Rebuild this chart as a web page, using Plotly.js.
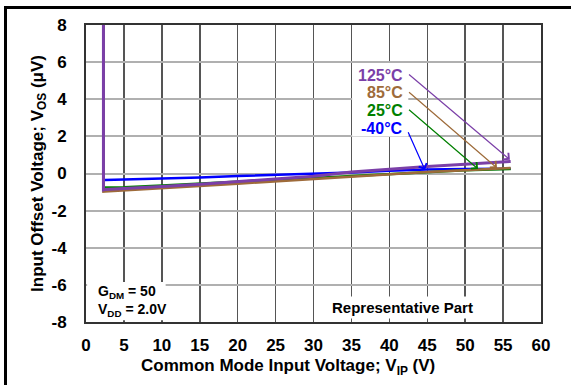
<!DOCTYPE html>
<html>
<head>
<meta charset="utf-8">
<script src="https://cdn.plot.ly/plotly-3.0.1.min.js"></script>
<style>
html,body{margin:0;padding:0;background:#fff;}
#frame{position:absolute;left:4px;top:6px;width:600px;height:400px;border-left:3px solid #000;border-top:3px solid #000;pointer-events:none;z-index:5;}
#chart{position:absolute;left:0;top:0;width:571px;height:385px;}
</style>
</head>
<body>
<div id="chart"></div>
<div id="frame"></div>
<script>
// Common mode input voltage (V) sample points
const xPurple = [2.3, 2.3, 2.5, 5, 10, 15, 20, 25, 30, 35, 40, 45, 50, 56];
const yPurple = [8, -0.88, -0.86, -0.82, -0.7, -0.58, -0.45, -0.3, -0.15, 0.08, 0.25, 0.38, 0.5, 0.65];
const x85 = [2.3, 2.3, 2.5, 5, 10, 15, 20, 25, 30, 35, 40, 45, 50, 56];
const y85 = [8, -0.98, -0.97, -0.92, -0.8, -0.68, -0.55, -0.42, -0.28, -0.15, -0.02, 0.08, 0.18, 0.3];
const x25 = [2.3, 2.3, 2.5, 5, 10, 15, 20, 25, 30, 35, 40, 45, 50, 56];
const y25 = [8, -0.76, -0.76, -0.74, -0.65, -0.55, -0.45, -0.34, -0.22, -0.13, -0.03, 0.08, 0.17, 0.24];
const xm40 = [2.3, 2.3, 2.5, 5, 8, 10, 13, 15, 20, 25, 30, 35, 40, 45, 50, 56];
const ym40 = [8, -0.36, -0.35, -0.33, -0.3, -0.3, -0.25, -0.22, -0.14, -0.08, -0.02, 0.06, 0.15, 0.22, 0.24, 0.26];

const seriesNames = ['-40°C', '25°C', '85°C', '125°C'];
const seriesColors = ['#0000FF', '#008000', '#9E6B3A', '#7B3FA8'];
const xTicks = [0, 5, 10, 15, 20, 25, 30, 35, 40, 45, 50, 55, 60];
const yTicks = [-8, -6, -4, -2, 0, 2, 4, 6, 8];
// arrow targets [tipX, tipY]
const arrowTips = [[44.7, 0.19], [51.7, 0.24], [54.2, 0.30], [55.9, 0.74]];
const labelY = [2.4, 3.4, 4.35, 5.3];

const F = 'Liberation Sans, Arial, sans-serif';
const traces = [
  {x: xm40, y: ym40, color: seriesColors[0], w: 2.5},
  {x: x25, y: y25, color: seriesColors[1], w: 2.5},
  {x: x85, y: y85, color: seriesColors[2], w: 2.5},
  {x: xPurple, y: yPurple, color: seriesColors[3], w: 3}
].map((s, i) => ({
  x: s.x, y: s.y, type: 'scatter', mode: 'lines', name: seriesNames[i],
  line: {color: s.color, width: s.w}, hoverinfo: 'skip'
}));

const annotations = [];
const labelX = 42.1;
seriesNames.forEach((n, i) => {
  annotations.push({
    x: arrowTips[i][0], y: arrowTips[i][1], ax: labelX + 0.3, ay: labelY[i] + (i === 0 ? -0.1 : 0.1),
    axref: 'x', ayref: 'y', xref: 'x', yref: 'y', text: '', showarrow: true,
    arrowhead: 4, arrowsize: 1.4, arrowwidth: 1.2, arrowcolor: seriesColors[i], standoff: 0
  });
  annotations.push({
    x: labelX, y: labelY[i], xref: 'x', yref: 'y', text: '<b>' + n + '</b>', showarrow: false,
    xanchor: 'right', yanchor: 'middle', font: {family: F, size: 16, color: seriesColors[i]}
  });
});
annotations.push({
  x: 1.3, y: -6.85, xref: 'x', yref: 'y', xanchor: 'left', yanchor: 'middle', align: 'left',
  showarrow: false,
  text: '<b>G<sub>DM</sub> = 50</b><br><b>V<sub>DD</sub> = 2.0V</b>',
  font: {family: F, size: 14, color: '#000'}
});
annotations.push({
  x: 41.8, y: -7.2, xref: 'x', yref: 'y', xanchor: 'center', yanchor: 'middle',
  showarrow: false, bgcolor: '#fff', borderpad: 2,
  text: '<b>Representative Part</b>', font: {family: F, size: 15, color: '#000'}
});
// x-axis title (offset left of plot centre as in the reference)
annotations.push({
  x: 0.444, y: -0.152, xref: 'paper', yref: 'paper', xanchor: 'center', yanchor: 'middle',
  showarrow: false,
  text: '<b>Common Mode Input Voltage; V<sub>IP</sub> (V)</b>', font: {family: F, size: 17, color: '#000'}
});

const layout = {
  width: 571, height: 385,
  margin: {l: 86, r: 30, t: 25, b: 63},
  paper_bgcolor: '#fff', plot_bgcolor: '#fff',
  showlegend: false,
  font: {family: F, color: '#000'},
  xaxis: {
    range: [0, 60], tickvals: xTicks, ticktext: xTicks.map(v => '<b>' + v + '</b>'),
    showgrid: true, gridcolor: '#555', gridwidth: 1.5, zeroline: false,
    showline: true, linecolor: '#333', linewidth: 2, mirror: true,
    ticks: 'outside', ticklen: 7, tickcolor: 'rgba(0,0,0,0)',
    tickfont: {family: F, size: 17, color: '#000'}
  },
  yaxis: {
    range: [-8, 8], tickvals: yTicks, ticktext: yTicks.map(v => '<b>' + v + '</b>'),
    showgrid: true, gridcolor: '#b0b0b0', gridwidth: 2, zeroline: false,
    showline: true, linecolor: '#333', linewidth: 2, mirror: true,
    ticks: 'outside', ticklen: 14, tickcolor: 'rgba(0,0,0,0)',
    tickfont: {family: F, size: 17, color: '#000'},
    title: {text: '<b>Input Offset Voltage; V<sub>OS</sub> (μV)</b>', font: {family: F, size: 17, color: '#000'}, standoff: 4}
  },
  shapes: [
    {type: 'rect', xref: 'x', yref: 'y', x0: 35.1, x1: 42.5, y0: 2.0, y1: 5.95, fillcolor: '#fff', line: {width: 0}, layer: 'above'},
    {type: 'rect', xref: 'x', yref: 'y', x0: 0.15, x1: 10.5, y0: -7.9, y1: -5.85, fillcolor: '#fff', line: {width: 0}, layer: 'above'}
  ],
  annotations: annotations
};

Plotly.newPlot('chart', traces, layout, {staticPlot: true, displayModeBar: false});
</script>
</body>
</html>
